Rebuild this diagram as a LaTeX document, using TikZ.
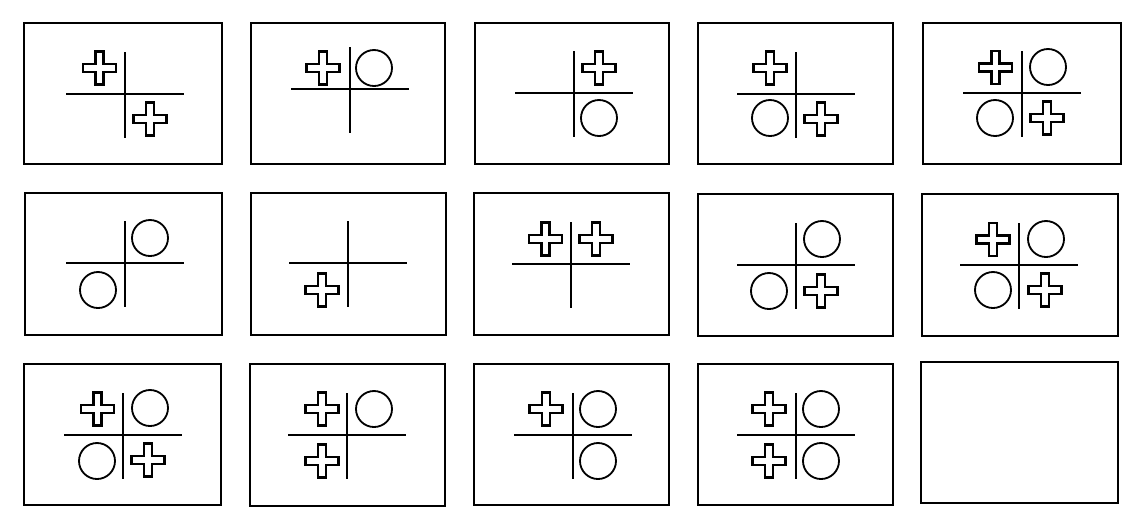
\documentclass[tikz,border=0pt]{standalone}
\usepackage{tikz}
\usetikzlibrary{positioning}

\tikzset{
    plussign/.pic={
        \draw[sym] (-4,-16.5) -- (4,-16.5) -- (4,-4) -- (16.5,-4) -- (16.5,4)
            -- (4,4) -- (4,16.5) -- (-4,16.5) -- (-4,4) -- (-16.5,4)
            -- (-16.5,-4) -- (-4,-4) -- cycle;
    },
    ring/.pic={
        \draw[line width=1.3pt] (0,0) circle (18);
    }
}

\begin{document}
\begin{tikzpicture}[x=0.025cm, y=-0.025cm,
    box/.style={line width=1pt},
    grid/.style={line width=1.6pt},
    sym/.style={line width=1.8pt, fill=white, line join=miter}]
    \useasboundingbox (0,0) rectangle (1147,529);
    % Frames
    \foreach \xa/\ya/\xb/\yb in {24/23/222/164, 251/23/445/164, 475/23/669/164,
        698/23/893/164, 923/23/1121/164,
        25/193/222/335, 251/193/446/335, 474/193/669/335,
        698/194/893/336, 922/194/1118/336,
        24/364/221/505, 250/364/445/506, 474/364/669/505,
        698/364/893/505, 921/362/1118/503} {
        \draw[box] (\xa,\ya) rectangle (\xb,\yb);
    }
    % Crosses
    \foreach \cx/\cy in {125/94, 350/89, 574/93, 796/94, 1022/93,
        125/263, 348/263, 571/264, 796/265, 1019/265,
        123/435, 347/435, 573/435, 796/435} {
        \coordinate (c) at (\cx,\cy);
        \draw[grid] ([xshift=-59*0.025cm]c) -- ([xshift=59*0.025cm]c);
        \draw[grid] ([yshift=42*0.025cm]c) -- ([yshift=-44*0.025cm]c);
    }
    % Plus signs
    \foreach \px/\py in {99.5/68, 150/119, 323/68, 599/68, 770/68, 821/119,
        995.5/67.5, 1047/118, 322/290, 545.5/239, 596/239, 821/291,
        993/239.5, 1045/290, 97.5/409, 148/460, 322/409, 322/461,
        546/409, 769/409, 769/461} {
        \pic at (\px,\py) {plussign};
    }
    % Circles
    \foreach \qx/\qy in {374/68, 599/118, 770/118, 1048/67, 995/118,
        150/238, 98/290, 822/239, 769/291, 1046/239, 993/290,
        150/408, 97/461, 374/409, 598/409, 598/461, 821/409, 821/461} {
        \pic at (\qx,\qy) {ring};
    }
\end{tikzpicture}
\end{document}
